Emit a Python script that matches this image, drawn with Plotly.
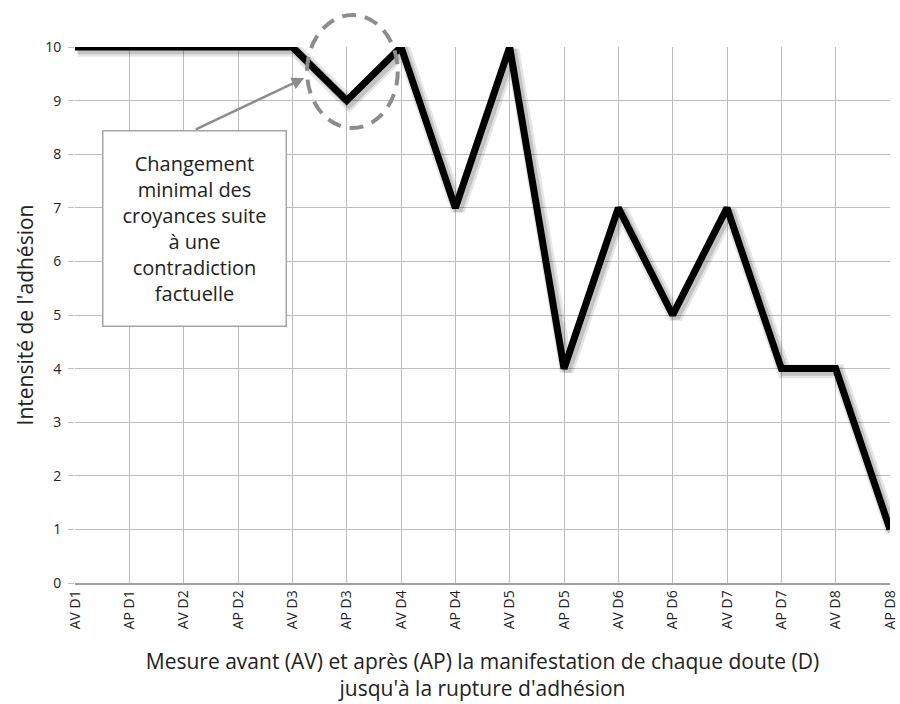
import plotly.graph_objects as go

categories = ["AV D1", "AP D1", "AV D2", "AP D2", "AV D3", "AP D3", "AV D4", "AP D4",
              "AV D5", "AP D5", "AV D6", "AP D6", "AV D7", "AP D7", "AV D8", "AP D8"]
intensite = [10, 10, 10, 10, 10, 9, 10, 7, 10, 4, 7, 5, 7, 4, 4, 1]
y_ticks = list(range(0, 11))

FONT = "Open Sans"
GRID = "#bdbdbd"

fig = go.Figure()

# soft shadow (same data on slightly offset overlay axes)
fig.add_trace(go.Scatter(x=categories, y=intensite, mode="lines",
                         line=dict(color="rgba(0,0,0,0.10)", width=14),
                         xaxis="x2", yaxis="y2", cliponaxis=False,
                         hoverinfo="skip", showlegend=False))
fig.add_trace(go.Scatter(x=categories, y=intensite, mode="lines",
                         line=dict(color="rgba(0,0,0,0.15)", width=9),
                         xaxis="x2", yaxis="y2", cliponaxis=False,
                         hoverinfo="skip", showlegend=False))
fig.add_trace(go.Scatter(x=categories, y=intensite, mode="lines",
                         line=dict(color="black", width=7),
                         cliponaxis=False, showlegend=False))

n = len(categories)
fig.update_layout(
    width=900, height=704,
    margin=dict(l=75, r=10, t=47, b=121),
    paper_bgcolor="white", plot_bgcolor="white",
    font=dict(family=FONT, color="#222"),
    xaxis=dict(type="category", categoryorder="array", categoryarray=categories,
               range=[0, n - 1], showgrid=True, gridcolor=GRID, gridwidth=1,
               showline=True, linecolor="#a0a0a0", linewidth=1.5,
               tickangle=-90, ticks="", ticklen=0, automargin=False,
               tickfont=dict(size=14, color="#222", family=FONT),
               zeroline=False,
               title=dict(text="Mesure avant (AV) et après (AP) la manifestation de chaque doute (D)<br>jusqu'à la rupture d'adhésion",
                          font=dict(size=21, family=FONT, color="#222"), standoff=26)),
    yaxis=dict(range=[0, 10], tickvals=y_ticks, showgrid=True, gridcolor=GRID, gridwidth=1,
               showline=False, ticks="outside", ticklen=6, tickcolor=GRID,
               ticklabelstandoff=4, automargin=False,
               tickfont=dict(size=14, color="#222", family=FONT), zeroline=False,
               title=dict(text="Intensité de l'adhésion",
                          font=dict(size=21, family=FONT, color="#222"), standoff=5)),
    xaxis2=dict(type="category", categoryorder="array", categoryarray=categories,
                range=[-0.05, n - 1 - 0.05], overlaying="x", visible=False),
    yaxis2=dict(range=[0.05, 10.05], overlaying="y", visible=False),
)

# dashed ellipse around the small dip (paper coords so it is not clipped)
fig.add_shape(type="circle", xref="paper", yref="paper",
              x0=0.2847, x1=0.3960, y0=0.8489, y1=1.0597,
              line=dict(color="#8c8c8c", width=4, dash="14px,9px"))

# arrow from the callout box to the ellipse
fig.add_annotation(x=4.22, y=9.42, xref="x", yref="y", ax=-110, ay=52,
                   showarrow=True, arrowhead=2, arrowsize=1, arrowwidth=2.5,
                   arrowcolor="#8c8c8c", text="")

# callout box
fig.add_annotation(x=2.2, y=6.62, xref="x", yref="y", showarrow=False,
                   text="Changement<br>minimal des<br>croyances suite<br>à une<br>contradiction<br>factuelle",
                   font=dict(size=20, family=FONT, color="#222"), align="center",
                   bgcolor="white", bordercolor="#a6a6a6", borderwidth=1.5,
                   width=170, height=182, borderpad=6)

fig.write_html("out.html", config={"displayModeBar": False},
               post_script="document.body.style.margin='0';document.body.style.overflow='hidden';")
